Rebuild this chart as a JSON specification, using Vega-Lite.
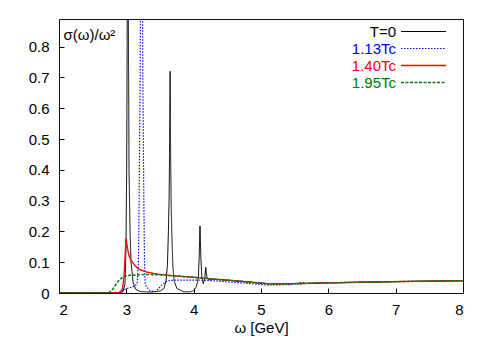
{
  "$schema": "https://vega.github.io/schema/vega-lite/v6.json",
  "width": 404,
  "height": 274,
  "autosize": {"type": "none"},
  "padding": {"left": 59, "top": 19, "right": 28, "bottom": 50},
  "background": "white",
  "config": {
    "font": "Liberation Sans",
    "view": {"stroke": "#111", "strokeWidth": 1}
  },
  "data": {"values": [
    {"s": "T=0", "w": 2.0, "v": 0}, {"s": "T=0", "w": 2.8, "v": 0}, {"s": "T=0", "w": 2.9, "v": 0.001}, {"s": "T=0", "w": 2.95, "v": 0.004},
    {"s": "T=0", "w": 2.98, "v": 0.03}, {"s": "T=0", "w": 2.995, "v": 0.15}, {"s": "T=0", "w": 3.005, "v": 0.4}, {"s": "T=0", "w": 3.012, "v": 0.8},
    {"s": "T=0", "w": 3.022, "v": 1.5}, {"s": "T=0", "w": 3.032, "v": 0.8}, {"s": "T=0", "w": 3.04, "v": 0.4}, {"s": "T=0", "w": 3.055, "v": 0.2},
    {"s": "T=0", "w": 3.07, "v": 0.1}, {"s": "T=0", "w": 3.1, "v": 0.035}, {"s": "T=0", "w": 3.14, "v": 0.012}, {"s": "T=0", "w": 3.2, "v": 0.005},
    {"s": "T=0", "w": 3.35, "v": 0.003}, {"s": "T=0", "w": 3.5, "v": 0.006}, {"s": "T=0", "w": 3.56, "v": 0.015}, {"s": "T=0", "w": 3.59, "v": 0.04},
    {"s": "T=0", "w": 3.61, "v": 0.09}, {"s": "T=0", "w": 3.625, "v": 0.2}, {"s": "T=0", "w": 3.635, "v": 0.3}, {"s": "T=0", "w": 3.642, "v": 0.45},
    {"s": "T=0", "w": 3.65, "v": 0.72}, {"s": "T=0", "w": 3.658, "v": 0.45}, {"s": "T=0", "w": 3.665, "v": 0.3}, {"s": "T=0", "w": 3.675, "v": 0.2},
    {"s": "T=0", "w": 3.69, "v": 0.09}, {"s": "T=0", "w": 3.71, "v": 0.04}, {"s": "T=0", "w": 3.75, "v": 0.015}, {"s": "T=0", "w": 3.85, "v": 0.004},
    {"s": "T=0", "w": 3.95, "v": 0.004}, {"s": "T=0", "w": 4.0, "v": 0.008}, {"s": "T=0", "w": 4.04, "v": 0.02}, {"s": "T=0", "w": 4.07, "v": 0.05},
    {"s": "T=0", "w": 4.082, "v": 0.12}, {"s": "T=0", "w": 4.088, "v": 0.17}, {"s": "T=0", "w": 4.094, "v": 0.218}, {"s": "T=0", "w": 4.1, "v": 0.17},
    {"s": "T=0", "w": 4.106, "v": 0.12}, {"s": "T=0", "w": 4.12, "v": 0.055}, {"s": "T=0", "w": 4.143, "v": 0.03}, {"s": "T=0", "w": 4.165, "v": 0.05},
    {"s": "T=0", "w": 4.172, "v": 0.065}, {"s": "T=0", "w": 4.18, "v": 0.083}, {"s": "T=0", "w": 4.188, "v": 0.065}, {"s": "T=0", "w": 4.2, "v": 0.048},
    {"s": "T=0", "w": 4.23, "v": 0.043}, {"s": "T=0", "w": 4.3, "v": 0.045}, {"s": "T=0", "w": 4.6, "v": 0.04}, {"s": "T=0", "w": 5.1, "v": 0.03},
    {"s": "T=0", "w": 5.4, "v": 0.03}, {"s": "T=0", "w": 5.56, "v": 0.031}, {"s": "T=0", "w": 5.58, "v": 0.035}, {"s": "T=0", "w": 5.6, "v": 0.028},
    {"s": "T=0", "w": 5.62, "v": 0.034}, {"s": "T=0", "w": 5.65, "v": 0.031}, {"s": "T=0", "w": 6.0, "v": 0.033}, {"s": "T=0", "w": 7.0, "v": 0.037},
    {"s": "T=0", "w": 8.0, "v": 0.04},
    {"s": "1.13Tc", "w": 2.0, "v": 0}, {"s": "1.13Tc", "w": 2.86, "v": 0}, {"s": "1.13Tc", "w": 2.9, "v": 0.002}, {"s": "1.13Tc", "w": 2.95, "v": 0.008},
    {"s": "1.13Tc", "w": 3.0, "v": 0.014}, {"s": "1.13Tc", "w": 3.06, "v": 0.018}, {"s": "1.13Tc", "w": 3.12, "v": 0.022}, {"s": "1.13Tc", "w": 3.16, "v": 0.03},
    {"s": "1.13Tc", "w": 3.18, "v": 0.1}, {"s": "1.13Tc", "w": 3.19, "v": 0.3}, {"s": "1.13Tc", "w": 3.205, "v": 0.7}, {"s": "1.13Tc", "w": 3.215, "v": 1.2},
    {"s": "1.13Tc", "w": 3.225, "v": 1.5}, {"s": "1.13Tc", "w": 3.235, "v": 1.2}, {"s": "1.13Tc", "w": 3.245, "v": 0.7}, {"s": "1.13Tc", "w": 3.26, "v": 0.3},
    {"s": "1.13Tc", "w": 3.27, "v": 0.1}, {"s": "1.13Tc", "w": 3.28, "v": 0.03}, {"s": "1.13Tc", "w": 3.3, "v": 0.02}, {"s": "1.13Tc", "w": 3.35, "v": 0.008},
    {"s": "1.13Tc", "w": 3.42, "v": 0.003}, {"s": "1.13Tc", "w": 3.47, "v": 0.012}, {"s": "1.13Tc", "w": 3.52, "v": 0.025}, {"s": "1.13Tc", "w": 3.58, "v": 0.036},
    {"s": "1.13Tc", "w": 3.65, "v": 0.041}, {"s": "1.13Tc", "w": 3.8, "v": 0.042}, {"s": "1.13Tc", "w": 4.0, "v": 0.042}, {"s": "1.13Tc", "w": 4.2, "v": 0.041},
    {"s": "1.13Tc", "w": 4.35, "v": 0.039}, {"s": "1.13Tc", "w": 4.7, "v": 0.033}, {"s": "1.13Tc", "w": 5.1, "v": 0.026}, {"s": "1.13Tc", "w": 5.4, "v": 0.027},
    {"s": "1.13Tc", "w": 5.6, "v": 0.03}, {"s": "1.13Tc", "w": 5.7, "v": 0.031}, {"s": "1.13Tc", "w": 6.0, "v": 0.033}, {"s": "1.13Tc", "w": 7.0, "v": 0.037},
    {"s": "1.13Tc", "w": 8.0, "v": 0.04},
    {"s": "1.40Tc", "w": 2.0, "v": 0}, {"s": "1.40Tc", "w": 2.87, "v": 0}, {"s": "1.40Tc", "w": 2.91, "v": 0.003}, {"s": "1.40Tc", "w": 2.94, "v": 0.012},
    {"s": "1.40Tc", "w": 2.965, "v": 0.05}, {"s": "1.40Tc", "w": 2.982, "v": 0.12}, {"s": "1.40Tc", "w": 2.995, "v": 0.178}, {"s": "1.40Tc", "w": 3.01, "v": 0.155},
    {"s": "1.40Tc", "w": 3.03, "v": 0.13}, {"s": "1.40Tc", "w": 3.06, "v": 0.11}, {"s": "1.40Tc", "w": 3.1, "v": 0.097}, {"s": "1.40Tc", "w": 3.15, "v": 0.084},
    {"s": "1.40Tc", "w": 3.2, "v": 0.076}, {"s": "1.40Tc", "w": 3.3, "v": 0.068}, {"s": "1.40Tc", "w": 3.47, "v": 0.061}, {"s": "1.40Tc", "w": 3.7, "v": 0.056},
    {"s": "1.40Tc", "w": 4.0, "v": 0.051}, {"s": "1.40Tc", "w": 4.3, "v": 0.045}, {"s": "1.40Tc", "w": 4.6, "v": 0.04}, {"s": "1.40Tc", "w": 5.1, "v": 0.03},
    {"s": "1.40Tc", "w": 5.4, "v": 0.03}, {"s": "1.40Tc", "w": 5.6, "v": 0.031}, {"s": "1.40Tc", "w": 6.0, "v": 0.033}, {"s": "1.40Tc", "w": 7.0, "v": 0.037},
    {"s": "1.40Tc", "w": 8.0, "v": 0.04},
    {"s": "1.95Tc", "w": 2.0, "v": 0}, {"s": "1.95Tc", "w": 2.72, "v": 0}, {"s": "1.95Tc", "w": 2.76, "v": 0.004}, {"s": "1.95Tc", "w": 2.8, "v": 0.013},
    {"s": "1.95Tc", "w": 2.84, "v": 0.026}, {"s": "1.95Tc", "w": 2.88, "v": 0.038}, {"s": "1.95Tc", "w": 2.92, "v": 0.047}, {"s": "1.95Tc", "w": 2.96, "v": 0.053},
    {"s": "1.95Tc", "w": 3.0, "v": 0.056}, {"s": "1.95Tc", "w": 3.1, "v": 0.058}, {"s": "1.95Tc", "w": 3.3, "v": 0.06}, {"s": "1.95Tc", "w": 3.5, "v": 0.059},
    {"s": "1.95Tc", "w": 3.7, "v": 0.056}, {"s": "1.95Tc", "w": 4.0, "v": 0.051}, {"s": "1.95Tc", "w": 4.3, "v": 0.045}, {"s": "1.95Tc", "w": 4.6, "v": 0.04},
    {"s": "1.95Tc", "w": 5.1, "v": 0.03}, {"s": "1.95Tc", "w": 5.4, "v": 0.03}, {"s": "1.95Tc", "w": 5.6, "v": 0.031}, {"s": "1.95Tc", "w": 6.0, "v": 0.033},
    {"s": "1.95Tc", "w": 7.0, "v": 0.037}, {"s": "1.95Tc", "w": 8.0, "v": 0.04}
  ]},
  "mark": {"type": "line", "clip": true},
  "encoding": {
    "x": {
      "field": "w", "type": "quantitative",
      "scale": {"domain": [2, 8], "nice": false, "zero": false},
      "axis": {
        "title": "ω [GeV]", "values": [2, 3, 4, 5, 6, 7, 8], "format": "d",
        "grid": false, "domain": false, "tickSize": -5, "tickColor": "#000",
        "labelFontSize": 15, "labelColor": "#000", "labelPadding": 14,
        "titleFontSize": 15, "titleFontWeight": "normal", "titleColor": "#000", "titlePadding": 3
      }
    },
    "y": {
      "field": "v", "type": "quantitative",
      "scale": {"domain": [0, 0.89], "nice": false},
      "axis": {
        "title": "σ(ω)/ω²", "values": [0, 0.1, 0.2, 0.3, 0.4, 0.5, 0.6, 0.7, 0.8], "format": ".1~f",
        "grid": false, "domain": false, "tickSize": -5, "tickColor": "#000",
        "labelFontSize": 15, "labelColor": "#000", "labelPadding": 15,
        "titleFontSize": 15, "titleFontWeight": "normal", "titleColor": "#000",
        "titleAngle": 0, "titleAlign": "left", "titleBaseline": "alphabetic", "titleX": 4, "titleY": 20
      }
    },
    "color": {
      "field": "s", "type": "nominal",
      "scale": {"domain": ["T=0", "1.13Tc", "1.40Tc", "1.95Tc"], "range": ["#000000", "#0000ff", "#ff0000", "#008000"]},
      "legend": {
        "title": null, "orient": "none", "legendX": 357, "legendY": 5,
        "symbolType": "M-5,0H5", "symbolSize": 81, "labelAlign": "right", "labelOffset": -35,
        "labelFontSize": 15, "labelColor": {"expr": "scale('color', datum.value)"}, "rowPadding": 1
      }
    },
    "strokeDash": {
      "field": "s", "type": "nominal",
      "scale": {"domain": ["T=0", "1.13Tc", "1.40Tc", "1.95Tc"], "range": [[1, 0], [1.5, 1.5], [1, 0], [3, 1.5]]}
    },
    "strokeWidth": {
      "field": "s", "type": "nominal",
      "scale": {"domain": ["T=0", "1.13Tc", "1.40Tc", "1.95Tc"], "range": [1, 1.5, 2.5, 1.2]}
    }
  }
}
